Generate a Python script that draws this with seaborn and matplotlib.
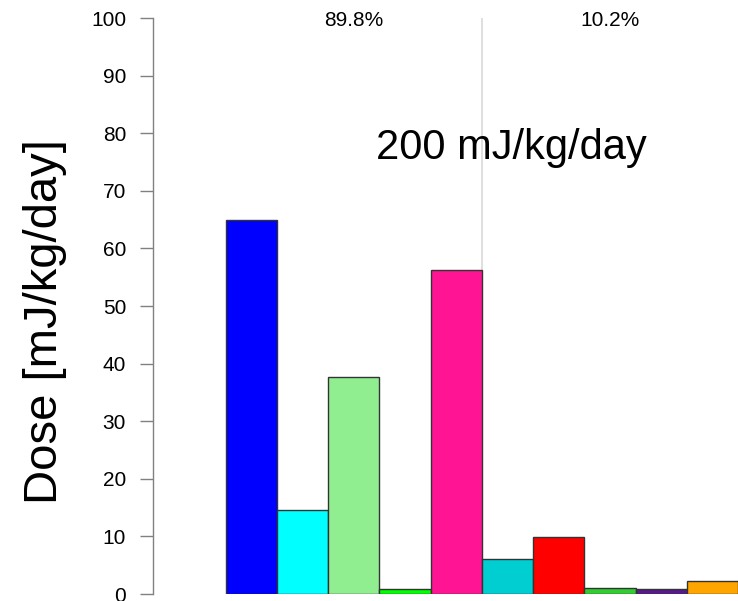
import matplotlib
matplotlib.use("Agg")
import matplotlib.pyplot as plt
import seaborn as sns
import pandas as pd

categories = ["A", "B", "C", "D", "E", "F", "G", "H", "I", "J"]
values = [65.0, 14.6, 37.7, 0.9, 56.2, 6.0, 9.9, 1.1, 0.9, 2.3]
colors = ["#0000FF", "#00FFFF", "#90EE90", "#00FF00", "#FF1493",
          "#00CED1", "#FF0000", "#32CD32", "#551A8B", "#FFA500"]
group_labels = ["89.8%", "10.2%"]
title_text = "200 mJ/kg/day"
ylabel = "Dose [mJ/kg/day]"
yticks = [0, 10, 20, 30, 40, 50, 60, 70, 80, 90, 100]

sns.set_style("white")
plt.rcParams['font.family'] = ['Liberation Sans', 'DejaVu Sans']
plt.rcParams['text.color'] = 'black'
plt.rcParams['ytick.color'] = '#808080'
plt.rcParams['ytick.labelcolor'] = 'black'

df = pd.DataFrame({"cat": categories, "val": values})

fig = plt.figure(figsize=(7.38, 6.01), dpi=100)
ax = fig.add_axes([153/738, 7/601, 1 - 153/738, 576/601])

ax.axvline(4.5, ymin=0, ymax=1, color="#d9d9d9", lw=1.2, zorder=0)

sns.barplot(data=df, x="cat", y="val", hue="cat", palette=colors, legend=False,
            width=1.0, edgecolor="#333333", linewidth=1.0, saturation=1, ax=ax, zorder=2)

ax.set_xlim(-1.92, 9.5)
ax.set_ylim(0, 100)
ax.set_yticks(yticks)
ax.set_yticklabels([str(t) for t in yticks], fontsize=15)
ax.tick_params(axis="y", left=True, length=9.4, width=1, color="#808080",
               labelcolor="black", pad=10)
ax.set_xticks([])
ax.set_xlabel("")
ax.set_ylabel("")
fig.text(45/738, 1 - 322/601, ylabel, rotation=90, ha="center", va="center",
         fontsize=34, color="black")

for s in ["top", "right", "bottom"]:
    ax.spines[s].set_visible(False)
ax.spines["left"].set_color("#808080")
ax.spines["left"].set_linewidth(1)

ax.text(2.0, 99.6, group_labels[0], ha="center", va="center", fontsize=15,
        color="black", clip_on=False)
ax.text(7.0, 99.6, group_labels[1], ha="center", va="center", fontsize=15,
        color="black", clip_on=False)
ax.text(5.07, 77.4, title_text, ha="center", va="center", fontsize=30, color="black")

fig.savefig("out.png", dpi=100)
